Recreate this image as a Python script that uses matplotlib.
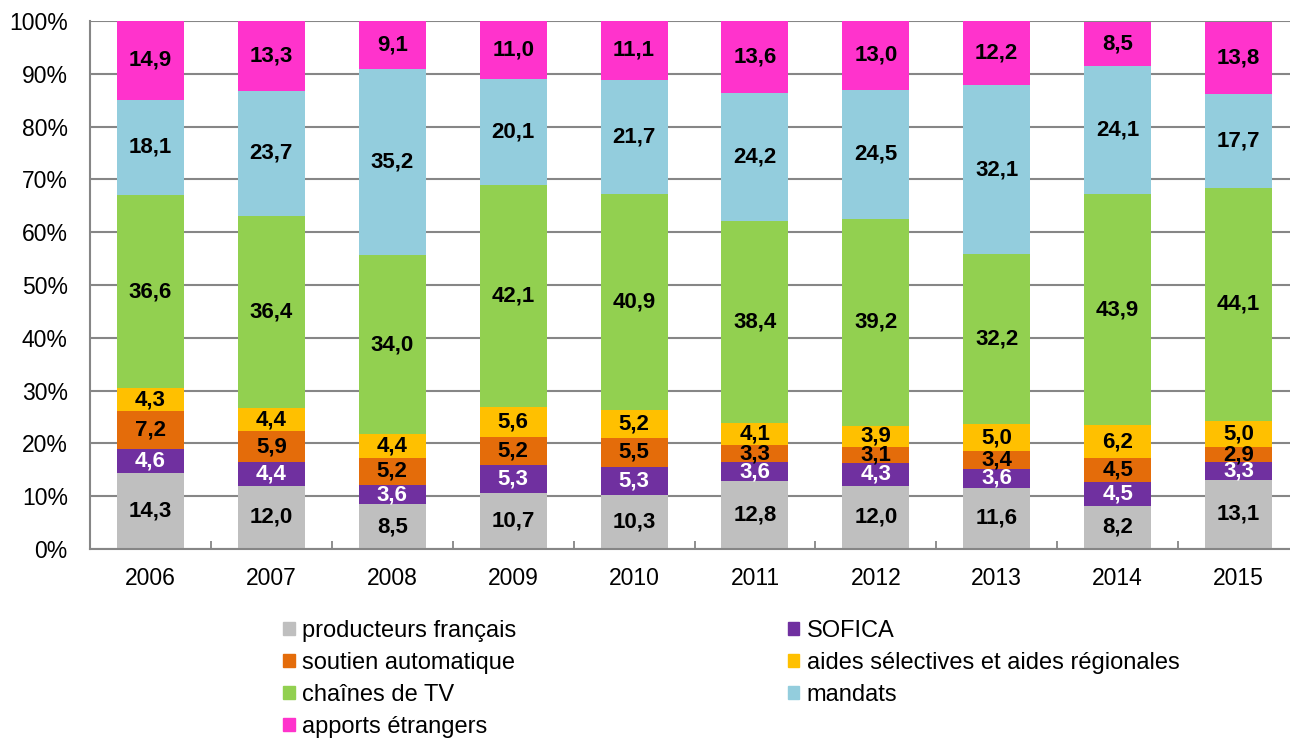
import matplotlib
matplotlib.use("Agg")
import matplotlib.pyplot as plt
from matplotlib.patches import Patch
import numpy as np

plt.rcParams['font.family'] = ['Liberation Sans', 'DejaVu Sans']

years = ["2006", "2007", "2008", "2009", "2010", "2011", "2012", "2013", "2014", "2015"]

producteurs = [14.3, 12.0, 8.5, 10.7, 10.3, 12.8, 12.0, 11.6, 8.2, 13.1]
sofica = [4.6, 4.4, 3.6, 5.3, 5.3, 3.6, 4.3, 3.6, 4.5, 3.3]
soutien = [7.2, 5.9, 5.2, 5.2, 5.5, 3.3, 3.1, 3.4, 4.5, 2.9]
aides = [4.3, 4.4, 4.4, 5.6, 5.2, 4.1, 3.9, 5.0, 6.2, 5.0]
chaines = [36.6, 36.4, 34.0, 42.1, 40.9, 38.4, 39.2, 32.2, 43.9, 44.1]
mandats = [18.1, 23.7, 35.2, 20.1, 21.7, 24.2, 24.5, 32.1, 24.1, 17.7]
apports = [14.9, 13.3, 9.1, 11.0, 11.1, 13.6, 13.0, 12.2, 8.5, 13.8]

series_names = ["producteurs français", "SOFICA", "soutien automatique",
                "aides sélectives et aides régionales", "chaînes de TV",
                "mandats", "apports étrangers"]
series_values = [producteurs, sofica, soutien, aides, chaines, mandats, apports]
colors = ["#BFBFBF", "#7030A0", "#E46C0A", "#FFC000", "#92D050", "#93CDDD", "#FF33CC"]
label_colors = ["black", "white", "black", "black", "black", "black", "black"]

fig = plt.figure(figsize=(12.9, 7.41), dpi=100)
ax = fig.add_axes([90 / 1290, 1 - 549 / 741, 1200 / 1290, 528 / 741])

x = np.arange(len(years))
width = 0.555
bottom = np.zeros(len(years))
for name, vals, col, lc in zip(series_names, series_values, colors, label_colors):
    vals = np.array(vals)
    ax.bar(x, vals, width, bottom=bottom, color=col, label=name, zorder=2,
           edgecolor=col, linewidth=0)
    for xi, b, v in zip(x, bottom, vals):
        ax.text(xi, b + v / 2, f"{v:.1f}".replace(".", ","), ha="center", va="center",
                fontsize=16, fontweight="bold", color=lc, zorder=3)
    bottom = bottom + vals

ax.set_xlim(-0.5, -0.5 + 1200 / 120.9)
ax.set_ylim(0, 100)
ax.set_yticks(np.arange(0, 101, 10))
ax.set_yticklabels([f"{v}%" for v in range(0, 101, 10)], fontsize=16.5)
ax.set_xticks(x)
ax.set_xticklabels(years, fontsize=16.5)
ax.set_xticks(np.arange(0.5, len(years) - 0.5, 1), minor=True)
ax.tick_params(axis="x", which="major", length=0, pad=13)
ax.tick_params(axis="x", which="minor", length=6, direction="in", color="#868686", width=1.3)
ax.tick_params(axis="y", length=0, pad=16)

ax.yaxis.grid(True, color="#868686", linewidth=1.5, zorder=0)
ax.set_axisbelow(True)
for s in ["top", "right"]:
    ax.spines[s].set_visible(False)
for s in ["left", "bottom"]:
    ax.spines[s].set_color("#868686")
    ax.spines[s].set_linewidth(1.5)

handles = [Patch(facecolor=c, edgecolor=c) for c in colors]
order = [0, 2, 4, 6, 1, 3, 5]
leg = fig.legend([handles[i] for i in order], [series_names[i] for i in order],
                 ncol=2, loc="upper left", bbox_to_anchor=(283 / 1290, 1 - 620 / 741),
                 frameon=False, fontsize=17, handlelength=0.5, handleheight=0.5,
                 handletextpad=0.3, columnspacing=11.5, labelspacing=0.42,
                 borderaxespad=0, borderpad=0)

fig.savefig("out.png", dpi=100)
